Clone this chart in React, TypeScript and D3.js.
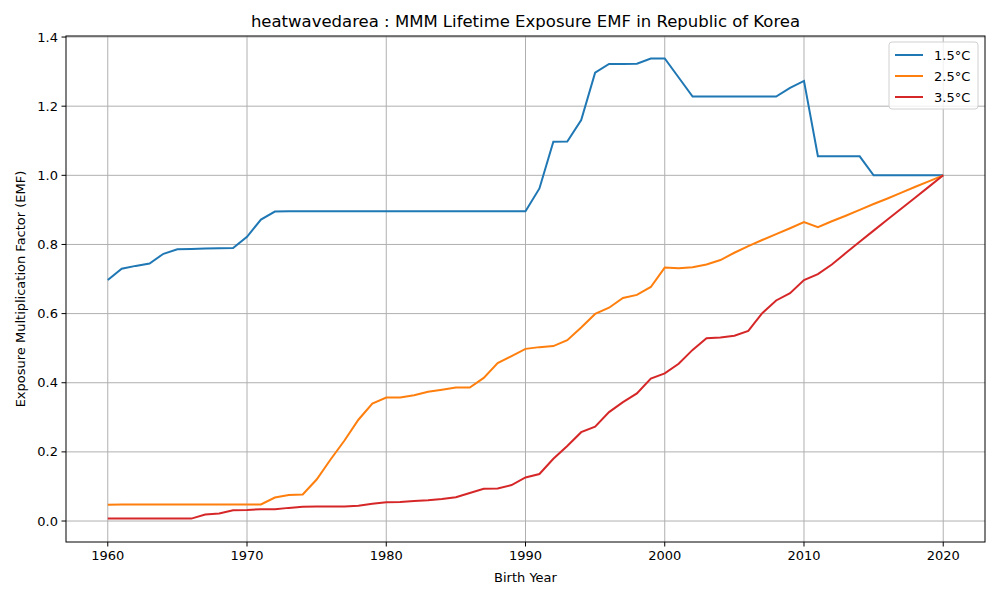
import * as d3 from 'd3';

const years = d3.range(1960, 2021);

const emf15 = [
  0.697, 0.730, 0.738, 0.745, 0.773, 0.786, 0.787, 0.788, 0.789, 0.790,
  0.822, 0.872, 0.895, 0.896, 0.896, 0.896, 0.896, 0.896, 0.896, 0.896,
  0.896, 0.896, 0.896, 0.896, 0.896, 0.896, 0.896, 0.896, 0.896, 0.896,
  0.896, 0.962, 1.097, 1.098, 1.160, 1.297, 1.322, 1.322, 1.323, 1.338,
  1.338, 1.283, 1.228, 1.228, 1.228, 1.228, 1.228, 1.228, 1.228, 1.253,
  1.273, 1.055, 1.055, 1.055, 1.055, 1.000, 1.000, 1.000, 1.000, 1.000,
  1.000,
];
const emf25 = [
  0.047, 0.048, 0.048, 0.048, 0.048, 0.048, 0.048, 0.048, 0.048, 0.048,
  0.048, 0.048, 0.068, 0.075, 0.077, 0.120, 0.178, 0.233, 0.293, 0.340,
  0.357, 0.357, 0.364, 0.374, 0.380, 0.386, 0.386, 0.414, 0.457, 0.477,
  0.498, 0.503, 0.506, 0.523, 0.560, 0.599, 0.617, 0.645, 0.654, 0.677,
  0.733, 0.731, 0.734, 0.742, 0.755, 0.776, 0.795, 0.813, 0.830, 0.847,
  0.865, 0.850, 0.867, 0.883, 0.900, 0.917, 0.933, 0.950, 0.967, 0.983,
  1.000,
];
const emf35 = [
  0.007, 0.007, 0.007, 0.007, 0.007, 0.007, 0.007, 0.019, 0.022, 0.031,
  0.032, 0.034, 0.034, 0.038, 0.041, 0.042, 0.042, 0.042, 0.044, 0.050,
  0.054, 0.055, 0.058, 0.060, 0.064, 0.069, 0.081, 0.093, 0.094, 0.104,
  0.126, 0.136, 0.180, 0.217, 0.257, 0.273, 0.315, 0.344, 0.369, 0.412,
  0.427, 0.455, 0.495, 0.529, 0.531, 0.536, 0.550, 0.601, 0.638, 0.659,
  0.697, 0.714, 0.742, 0.775, 0.808, 0.840, 0.872, 0.904, 0.936, 0.968,
  1.000,
];

const series = [
  { label: '1.5°C', color: '#1f77b4', values: emf15 },
  { label: '2.5°C', color: '#ff7f0e', values: emf25 },
  { label: '3.5°C', color: '#d62728', values: emf35 },
];

const xTicks = [1960, 1970, 1980, 1990, 2000, 2010, 2020];
const yTicks = [0, 0.2, 0.4, 0.6, 0.8, 1.0, 1.2, 1.4];

const W = 1000, H = 600;
const m = { left: 66, right: 985, top: 36, bottom: 542 };
const font = 'DejaVu Sans, sans-serif';

export default function App() {
  const x = d3.scaleLinear().domain([1957, 2023]).range([m.left, m.right]);
  const y = d3.scaleLinear().domain([-0.0607, 1.403]).range([m.bottom, m.top]);
  const line = d3.line<number>().x((_, i) => x(years[i])).y(d => y(d));

  return (
    <svg width={W} height={H} style={{ position: 'absolute', left: 0, top: 0, background: '#fff' }} fontFamily={font}>
      {xTicks.map(t => (
        <g key={'x' + t}>
          <line x1={x(t)} x2={x(t)} y1={m.top} y2={m.bottom} stroke="#b0b0b0" strokeWidth={1} />
          <line x1={x(t)} x2={x(t)} y1={m.bottom} y2={m.bottom + 4.5} stroke="#000" strokeWidth={1} />
          <text x={x(t)} y={m.bottom + 18} fontSize={13} textAnchor="middle">{t}</text>
        </g>
      ))}
      {yTicks.map(t => (
        <g key={'y' + t}>
          <line x1={m.left} x2={m.right} y1={y(t)} y2={y(t)} stroke="#b0b0b0" strokeWidth={1} />
          <line x1={m.left - 4.5} x2={m.left} y1={y(t)} y2={y(t)} stroke="#000" strokeWidth={1} />
          <text x={m.left - 8} y={y(t)} dy="0.35em" fontSize={13} textAnchor="end">{t.toFixed(1)}</text>
        </g>
      ))}
      {series.map(s => (
        <path key={s.label} d={line(s.values) || ''} fill="none" stroke={s.color} strokeWidth={2} />
      ))}
      <rect x={m.left} y={m.top} width={m.right - m.left} height={m.bottom - m.top} fill="none" stroke="#000" strokeWidth={1} />
      <text x={(m.left + m.right) / 2} y={m.top - 9} fontSize={16.5} textAnchor="middle">
        heatwavedarea : MMM Lifetime Exposure EMF in Republic of Korea
      </text>
      <text x={(m.left + m.right) / 2} y={582} fontSize={13} textAnchor="middle">Birth Year</text>
      <text transform={`translate(25,${(m.top + m.bottom) / 2}) rotate(-90)`} fontSize={13} textAnchor="middle">
        Exposure Multiplication Factor (EMF)
      </text>
      <g transform="translate(889,42)">
        <rect width={89} height={67} rx={3} fill="#fff" fillOpacity={0.8} stroke="#d0d0d0" />
        {series.map((s, i) => (
          <g key={s.label} transform={`translate(6,${13 + i * 21})`}>
            <line x1={0} x2={28} stroke={s.color} strokeWidth={2} />
            <text x={39} dy="0.35em" fontSize={13}>{s.label}</text>
          </g>
        ))}
      </g>
    </svg>
  );
}
